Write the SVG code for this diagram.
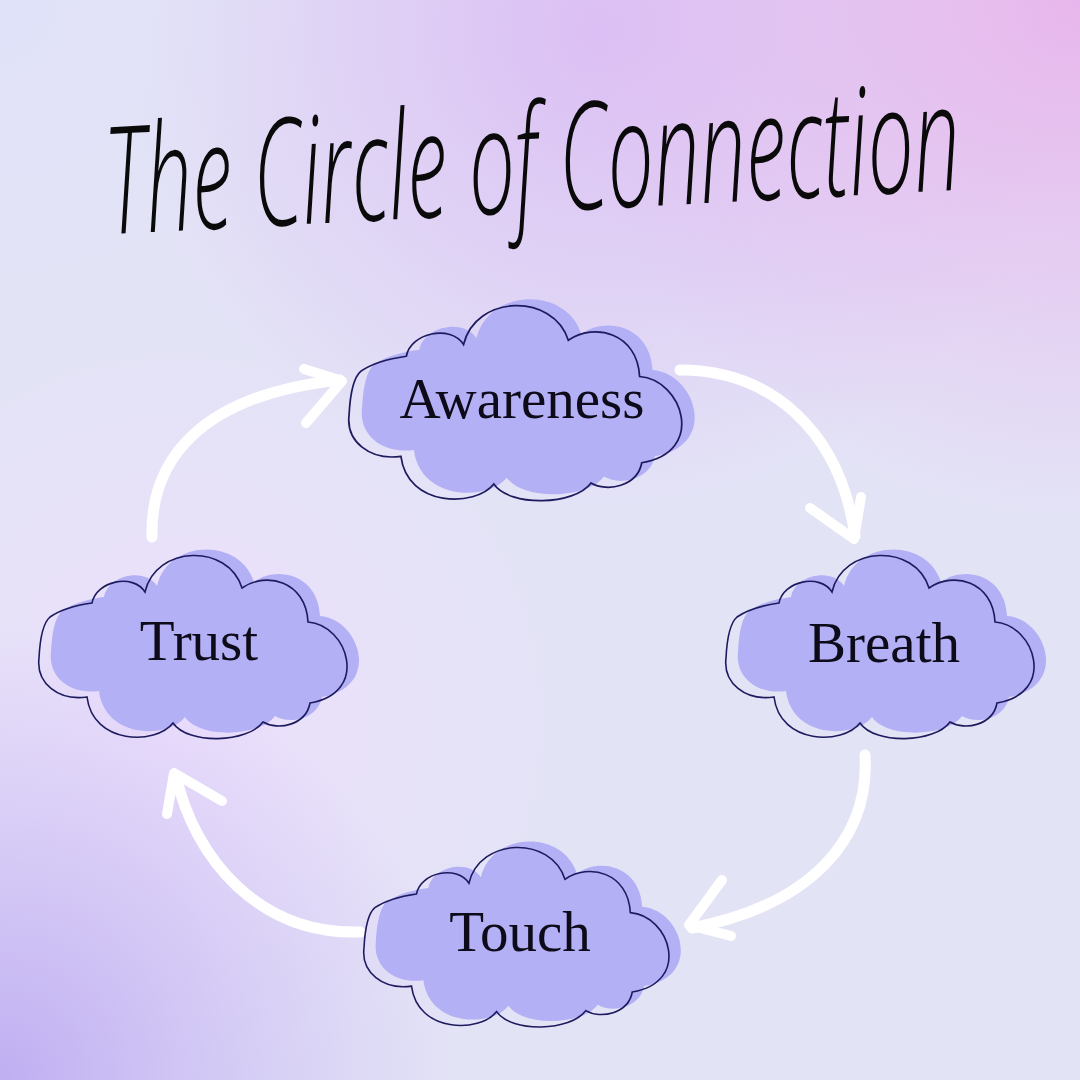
<svg xmlns="http://www.w3.org/2000/svg" xmlns:xlink="http://www.w3.org/1999/xlink" width="1080" height="1080" viewBox="0 0 1080 1080">
<defs>
  <radialGradient id="gTR" cx="1080" cy="0" r="520" gradientUnits="userSpaceOnUse">
    <stop offset="0" stop-color="#e8b6ec"/>
    <stop offset="1" stop-color="#e6b8ee" stop-opacity="0"/>
  </radialGradient>
  <radialGradient id="gTM" cx="600" cy="30" r="480" gradientUnits="userSpaceOnUse">
    <stop offset="0" stop-color="#dbbff4"/>
    <stop offset="1" stop-color="#dcbff4" stop-opacity="0"/>
  </radialGradient>
  <radialGradient id="gBL" cx="0" cy="1080" r="460" gradientUnits="userSpaceOnUse">
    <stop offset="0" stop-color="#c0aef2"/>
    <stop offset="1" stop-color="#c8b8f4" stop-opacity="0"/>
  </radialGradient>
  <radialGradient id="gML" cx="180" cy="720" r="380" gradientUnits="userSpaceOnUse">
    <stop offset="0" stop-color="#ede0fc"/>
    <stop offset="1" stop-color="#ede0fc" stop-opacity="0"/>
  </radialGradient>
  <radialGradient id="gTL" cx="0" cy="0" r="300" gradientUnits="userSpaceOnUse">
    <stop offset="0" stop-color="#e0e2f9"/>
    <stop offset="1" stop-color="#e0e2f9" stop-opacity="0"/>
  </radialGradient>
  <path id="cloud" d="M12,64 C25,55 40,52 54,50 C58,28 95,20 107,39 C118,-8 190,-10 204,35 C228,18 268,28 270,69 C310,72 332,140 272,150 C268,172 240,178 225,169 C210,190 150,192 135,170 C118,192 55,192 49,144 C20,148 -2,130 1,105 C2,85 5,70 12,64 Z"/>
  <style>
    .cfill { fill: #b3b0f5; }
    .cline { fill: none; stroke: #1d1b5e; stroke-width: 1.6; }
    .label { font-family: "Liberation Serif", "DejaVu Serif", serif; font-size: 57px; fill: #0d0b1a; text-anchor: middle; }
    .brush { fill: none; stroke: #ffffff; stroke-width: 11; stroke-linecap: round; stroke-linejoin: round; }
    .head { fill: none; stroke: #ffffff; stroke-width: 10; stroke-linecap: round; stroke-linejoin: round; }
    .title { font-family: "Open Sans", "DejaVu Sans", sans-serif; font-weight: 300; font-style: italic; font-size: 88px; fill: #0a0a0a; text-anchor: middle; }
  </style>
</defs>

<rect width="1080" height="1080" fill="#e3e3f6"/>
<rect width="1080" height="1080" fill="url(#gTM)"/>
<rect width="1080" height="1080" fill="url(#gTR)"/>
<rect width="1080" height="1080" fill="url(#gTL)"/>
<rect width="1080" height="1080" fill="url(#gML)"/>
<rect width="1080" height="1080" fill="url(#gBL)"/>

<g id="title" transform="translate(535,212) rotate(-3) scale(1,1.7)">
  <text class="title" x="0" y="0" textLength="855" lengthAdjust="spacingAndGlyphs">The Circle of Connection</text>
</g>

<g id="connectors">
  <path class="brush" d="M152,537 C150,460 200,395 340,380"/>
  <path class="head" d="M304,369 L342,381 L306,423"/>
  <path class="brush" d="M680,370 C770,370 840,430 855,536"/>
  <path class="head" d="M810,508 L854,539 L861,497"/>
  <path class="brush" d="M865,755 C870,840 810,905 692,928"/>
  <path class="head" d="M722,880 L689,925 L731,936"/>
  <path class="brush" d="M360,932 C260,935 195,860 176,776"/>
  <path class="head" d="M167,814 L174,773 L222,801"/>
</g>

<g id="awareness" transform="translate(348,303) scale(1.08,1.065)">
  <use xlink:href="#cloud" class="cfill" transform="translate(12,-6)"/>
  <use xlink:href="#cloud" class="cline" vector-effect="non-scaling-stroke"/>
</g>
<text class="label" x="522" y="418">Awareness</text>

<g id="trust" transform="translate(38,553)">
  <use xlink:href="#cloud" class="cfill" transform="translate(12,-6)"/>
  <use xlink:href="#cloud" class="cline"/>
</g>
<text class="label" x="199" y="660">Trust</text>

<g id="breath" transform="translate(725,553)">
  <use xlink:href="#cloud" class="cfill" transform="translate(12,-6)"/>
  <use xlink:href="#cloud" class="cline"/>
</g>
<text class="label" x="884" y="662">Breath</text>

<g id="touch" transform="translate(363,845) scale(0.99,0.98)">
  <use xlink:href="#cloud" class="cfill" transform="translate(12,-6)"/>
  <use xlink:href="#cloud" class="cline"/>
</g>
<text class="label" x="520" y="951">Touch</text>
</svg>
